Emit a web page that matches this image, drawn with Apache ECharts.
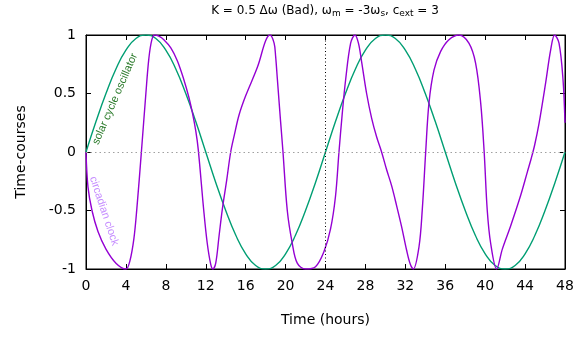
<!DOCTYPE html>
<html>
<head>
<meta charset="utf-8">
<script src="https://cdn.jsdelivr.net/npm/echarts@6/dist/echarts.min.js"></script>
<style>html,body{margin:0;padding:0;background:#fff;}#c{width:579px;height:337px;}</style>
</head>
<body>
<div id="c"></div>
<script>
// ---- data ----
var hours = [0,1,2,3,4,5,6,7,8,9,10,11,12,13,14,15,16,17,18,19,20,21,22,23,24,
             25,26,27,28,29,30,31,32,33,34,35,36,37,38,39,40,41,42,43,44,45,46,47,48];
var solarValues = [0,0.26,0.5,0.71,0.87,0.97,1,0.97,0.87,0.71,0.5,0.26,0,-0.26,-0.5,-0.71,-0.87,-0.97,-1,-0.97,-0.87,-0.71,-0.5,-0.26,0,
                   0.26,0.5,0.71,0.87,0.97,1,0.97,0.87,0.71,0.5,0.26,0,-0.26,-0.5,-0.71,-0.87,-0.97,-1,-0.97,-0.87,-0.71,-0.5,-0.26,0];
var clockTimes = [0,0.2,0.6,1.2,2,3,4,4.4,4.8,5.1,5.55,6.0,6.3,6.6,6.9,7.3,7.8,8.5,9.15,9.8,10.3,10.65,11.0,11.25,11.8,12.15,12.5,12.72,13.0,13.33,13.66,14.1,14.5,14.85,15.35,16.0,17.2,18.0,18.44,18.85,19.0,19.17,19.5,19.74,20.17,20.67,21.17,22,23,23.85,24.5,25.0,25.35,25.68,26.02,26.52,26.95,27.3,27.62,28.12,28.62,29.12,29.62,30.12,30.63,31.13,31.63,32.13,32.5,32.8,33.37,33.7,34.04,34.37,34.87,35.54,36.37,37.37,38.37,39.04,39.55,39.9,40.21,40.55,41.15,41.72,42.56,43.56,44.23,44.6,44.96,45.39,46.06,46.56,46.96,47.4,47.8,48];
var clockValues = [0,-0.3,-0.5,-0.68,-0.83,-0.95,-1,-0.93,-0.74,-0.48,0,0.5,0.8,0.96,1.0,0.99,0.96,0.89,0.78,0.62,0.47,0.34,0.18,0.02,-0.5,-0.78,-0.96,-1,-0.95,-0.72,-0.49,-0.24,0,0.14,0.32,0.48,0.73,0.95,1,0.93,0.82,0.63,0.26,0,-0.5,-0.78,-0.95,-1,-0.98,-0.85,-0.66,-0.38,0,0.33,0.62,0.93,1,0.93,0.77,0.5,0.29,0.13,0,-0.15,-0.29,-0.46,-0.64,-0.84,-0.96,-1,-0.81,-0.49,0,0.42,0.7,0.86,0.96,1,0.93,0.76,0.42,0,-0.5,-0.78,-1,-0.83,-0.63,-0.37,-0.17,-0.06,0.06,0.24,0.59,0.87,1,0.93,0.62,0.25];
var xTicks = {min:0, max:48, step:4};
var yTicks = {min:-1, max:1, step:0.5};
var markTime = 24;

var solarData = hours.map(function(h,i){return [h, solarValues[i]];});
var clockData = clockTimes.map(function(t,i){return [t, clockValues[i]];});

var FONT = 'DejaVu Sans';
var chart = echarts.init(document.getElementById('c'), null, {renderer:'canvas'});
var axisCommon = {
  type:'value',
  axisLine:{show:true, onZero:false, lineStyle:{color:'#000', width:1}},
  axisTick:{show:true, inside:true, length:5, lineStyle:{color:'#000', width:1}},
  splitLine:{show:false}
};
chart.setOption({
  animation:false,
  backgroundColor:'#fff',
  textStyle:{fontFamily:FONT},
  grid:{left:86, right:14, top:35, bottom:68, show:true, borderColor:'#000', borderWidth:1, containLabel:false},
  graphic:[
    {type:'text', x:325, y:3, style:{
      text:'K = 0.5 Δω (Bad), ω{s|m} = -3ω{s|s}, c{s|ext} = 3',
      textAlign:'center', fill:'#000', font:'12px '+FONT,
      rich:{s:{fontSize:9, fontFamily:FONT, padding:[6,0,0,0], fill:'#000'}}
    }},
    {type:'text', x:115, y:99, rotation:66.5*Math.PI/180, style:{
      text:'solar cycle oscillator', fill:'#2a7a2a', font:'11px Liberation Sans',
      textAlign:'center', textVerticalAlign:'middle'}},
    {type:'text', x:104, y:211, rotation:-71.5*Math.PI/180, style:{
      text:'circadian clock', fill:'#c58cff', font:'11px Liberation Sans',
      textAlign:'center', textVerticalAlign:'middle'}}
  ],
  xAxis:[
    Object.assign({}, axisCommon, {min:xTicks.min, max:xTicks.max, interval:xTicks.step, position:'bottom',
      name:'Time (hours)', nameLocation:'middle', nameGap:44,
      nameTextStyle:{fontSize:14, color:'#000', fontFamily:FONT},
      axisLabel:{fontSize:14, color:'#000', margin:10, fontFamily:FONT}}),
    Object.assign({}, axisCommon, {min:xTicks.min, max:xTicks.max, interval:xTicks.step, position:'top',
      axisLabel:{show:false}})
  ],
  yAxis:[
    Object.assign({}, axisCommon, {min:yTicks.min, max:yTicks.max, interval:yTicks.step, position:'left',
      name:'Time-courses', nameLocation:'middle', nameGap:58, nameRotate:90,
      nameTextStyle:{fontSize:14, color:'#000', fontFamily:FONT},
      axisLabel:{fontSize:14, color:'#000', margin:10, fontFamily:FONT}}),
    Object.assign({}, axisCommon, {min:yTicks.min, max:yTicks.max, interval:yTicks.step, position:'right',
      axisLabel:{show:false}})
  ],
  series:[
    {type:'line', name:'solar', data:solarData, showSymbol:false, smooth:0.5,
     lineStyle:{color:'#009e73', width:1.4}, z:3,
     markLine:{silent:true, symbol:'none', label:{show:false},
       data:[{yAxis:0, lineStyle:{color:'#a0a0a0', type:[1.5,3], width:1}},
             {xAxis:markTime, lineStyle:{color:'#000', type:[1,2.5], width:1}}]}},
    {type:'line', name:'clock', data:clockData, showSymbol:false, smooth:0.35,
     lineStyle:{color:'#9400d3', width:1.4}, z:4}
  ]
});
</script>
</body>
</html>
